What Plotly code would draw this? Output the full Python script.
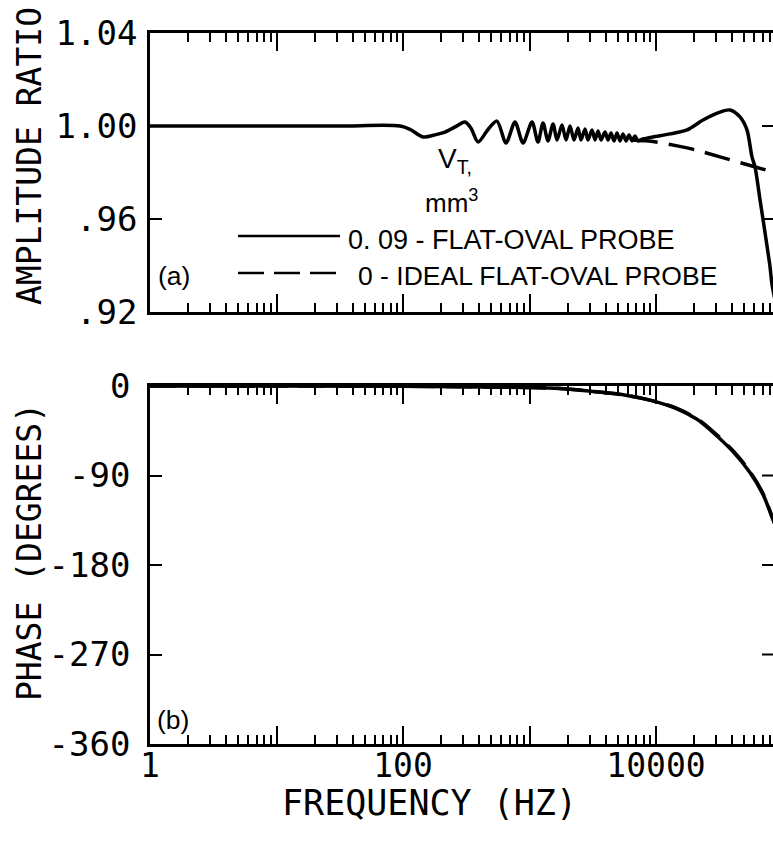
import plotly.graph_objects as go

# ---- data ----
# (a) amplitude ratio, V_T = 0.09 mm^3 (solid)
amp_freq = [1, 30, 95, 114, 144, 179, 215, 258, 309, 345, 392, 470, 553, 652, 768, 889,
            1047, 1167, 1279, 1400, 1535, 1649, 1806, 1944, 2090, 2249, 2418, 2553, 2748,
            2899, 3120, 3296, 3483, 3675, 3955, 4178, 4407, 4656, 4918, 5192, 5483, 5792,
            6118, 6460, 6823, 7207, 7896, 9462, 12900, 17590, 23540, 32070, 38460, 46130,
            52380, 57380, 60640, 66400, 72780, 79660, 82650, 95500]
amp_solid = [1.0000, 1.0000, 1.0000, 0.9985, 0.9953, 0.9962, 0.9974, 0.9996, 1.0017, 0.9990,
             0.9931, 0.9985, 1.0021, 0.9927, 1.0017, 0.9927,
             1.0017, 0.9931, 1.0013, 0.9936, 1.0009, 0.9940, 1.0004, 0.9940, 1.0000, 0.9940,
             0.9991, 0.9940, 0.9987, 0.9940, 0.9983, 0.9940, 0.9979, 0.9940, 0.9974, 0.9940,
             0.9970, 0.9936, 0.9970, 0.9936, 0.9966, 0.9936, 0.9961, 0.9936, 0.9957, 0.9936,
             0.9944, 0.9953, 0.9966, 0.9983, 1.0026, 1.0060, 1.0069, 1.0039,
             0.9983, 0.9867, 0.9824, 0.9683, 0.9541, 0.9395, 0.9318, 0.9150]

# (a) amplitude ratio, V_T = 0 (ideal, dashed) - hidden inside the solid band below ~6 kHz
ideal_freq = [6460, 7900, 9460, 17590, 32070, 57380, 82650, 95500]
amp_ideal = [0.9940, 0.9937, 0.9933, 0.9906, 0.9867, 0.9828, 0.9803, 0.9794]

# (b) phase in degrees
phase_freq = [1, 95, 950, 1740, 3177, 5900, 9460, 14660, 21100, 26700, 40600, 55300,
              70100, 82650, 95500]
phase_solid = [0, -0.3, -1.5, -2.5, -5.5, -9.5, -15, -23, -33.5, -44, -66, -87, -109, -132, -152]
phase_ideal = [0, -0.3, -1.5, -2.5, -5.5, -9.5, -15, -22.5, -33, -43, -65, -86, -108, -131, -150]

decades = [1, 10, 100, 1000, 10000, 100000]
decade_text = ["1", "", "100", "", "10000", ""]
minor_vals = [k * d for d in decades[:-1] for k in range(2, 10)]

amp_ticks = [0.92, 0.96, 1.00, 1.04]
amp_text = [".92", ".96", "1.00", "1.04"]
phase_ticks = [-360, -270, -180, -90, 0]
phase_text = ["-360", "-270", "-180", "-90", "0"]

# ---- geometry, in pixels of the 773x845 picture ----
# the frame's right side is cut off by the picture edge, only its ticks show
L, R, T, B = 150, 773, 33, 744
W, H = 773, 845


def px(x):
    return (x - L) / (R - L)


def py(y):
    return (B - y) / (B - T)


MONO = "DejaVu Sans Mono"
SANS = "Liberation Sans, Arial, sans-serif"
DASH = "26px,11px"

fig = go.Figure()
fig.add_trace(go.Scatter(x=amp_freq, y=amp_solid, mode="lines", xaxis="x", yaxis="y",
                         line=dict(color="black", width=3.5, shape="spline", smoothing=0.8)))
fig.add_trace(go.Scatter(x=ideal_freq, y=amp_ideal, mode="lines", xaxis="x", yaxis="y",
                         line=dict(color="black", width=3.5, dash=DASH, shape="spline")))
fig.add_trace(go.Scatter(x=phase_freq, y=phase_ideal, mode="lines", xaxis="x2", yaxis="y2",
                         line=dict(color="black", width=3.5, dash=DASH, shape="spline")))
fig.add_trace(go.Scatter(x=phase_freq, y=phase_solid, mode="lines", xaxis="x2", yaxis="y2",
                         line=dict(color="black", width=3.5, shape="spline")))

xcommon = dict(type="log", range=[0, (R - L) / 126.5], showline=True, linewidth=2.5,
               linecolor="black", mirror="ticks", ticks="inside", ticklen=18, tickwidth=2,
               tickcolor="black", tickvals=decades, showgrid=False, zeroline=False,
               minor=dict(ticks="inside", ticklen=9, tickwidth=1.5, tickcolor="black",
                          tickvals=minor_vals, showgrid=False))
ycommon = dict(showline=True, linewidth=2.5, linecolor="black",
               ticks="inside", ticklen=12, tickwidth=2, tickcolor="black",
               showgrid=False, zeroline=False,
               tickfont=dict(family=MONO, size=34, color="black"))

fig.update_layout(
    width=W, height=H,
    margin=dict(l=L, r=W - R, t=T, b=H - B),
    paper_bgcolor="white", plot_bgcolor="white",
    showlegend=False,
    font=dict(family=MONO, color="black"),
    xaxis=dict(xcommon, anchor="y", domain=[0, 1], showticklabels=False),
    yaxis=dict(ycommon, anchor="x", domain=[py(312), 1], range=[0.92, 1.04],
               tickvals=amp_ticks, ticktext=amp_text, ticklabelstandoff=3),
    xaxis2=dict(xcommon, anchor="y2", domain=[0, 1], ticktext=decade_text,
                tickfont=dict(family=MONO, size=33, color="black"), ticklabelstandoff=-9),
    yaxis2=dict(ycommon, anchor="x2", domain=[0, py(386)], range=[-360, 0],
                tickvals=phase_ticks, ticktext=phase_text, ticklabelstandoff=10),
)

# right-hand frame ticks
tick_w = 11 / (R - L)
for v in amp_ticks[1:3]:
    fig.add_shape(type="line", xref="x domain", yref="y", x0=1 - tick_w, x1=1, y0=v, y1=v,
                  line=dict(color="black", width=2))
for v in phase_ticks[1:4]:
    fig.add_shape(type="line", xref="x2 domain", yref="y2", x0=1 - tick_w, x1=1, y0=v, y1=v,
                  line=dict(color="black", width=2))

# legend samples
fig.add_shape(type="line", xref="paper", yref="paper", x0=px(238), x1=px(340),
              y0=py(236), y1=py(236), line=dict(color="black", width=2.5))
fig.add_shape(type="line", xref="paper", yref="paper", x0=px(238), x1=px(340),
              y0=py(273), y1=py(273), line=dict(color="black", width=2.5, dash="26px,10px"))

notes = [
    ("0. 09 - FLAT-OVAL PROBE", 346, 240, 27),
    ("0 - IDEAL FLAT-OVAL PROBE", 356, 276, 26.5),
    ("(a)", 156, 276, 26.5),
    ("(b)", 155, 720, 26.5),
    ("V<sub>T,</sub>", 436, 161, 28),
    ("mm<sup>3</sup>", 423, 202, 26),
]
for txt, x, y, size in notes:
    fig.add_annotation(text=txt, xref="paper", yref="paper", x=px(x), y=py(y),
                       xanchor="left", yanchor="middle", showarrow=False,
                       font=dict(family=SANS, size=size, color="black"))

# axis titles
fig.add_annotation(text="AMPLITUDE RATIO", xref="paper", yref="paper", x=px(29), y=py(156),
                   textangle=-90, showarrow=False, xanchor="center", yanchor="middle",
                   font=dict(family=MONO, size=33, color="black"))
fig.add_annotation(text="PHASE (DEGREES)", xref="paper", yref="paper", x=px(29), y=py(552),
                   textangle=-90, showarrow=False, xanchor="center", yanchor="middle",
                   font=dict(family=MONO, size=33, color="black"))
fig.add_annotation(text="FREQUENCY (HZ)", xref="paper", yref="paper", x=px(429), y=py(803),
                   showarrow=False, xanchor="center", yanchor="middle",
                   font=dict(family=MONO, size=35, color="black"))

# the page would otherwise add an 8px body margin and scrollbars
fig.write_html("out.html", config={"displayModeBar": False},
               post_script="document.body.style.margin='0';"
                           "document.body.style.overflow='hidden';")
